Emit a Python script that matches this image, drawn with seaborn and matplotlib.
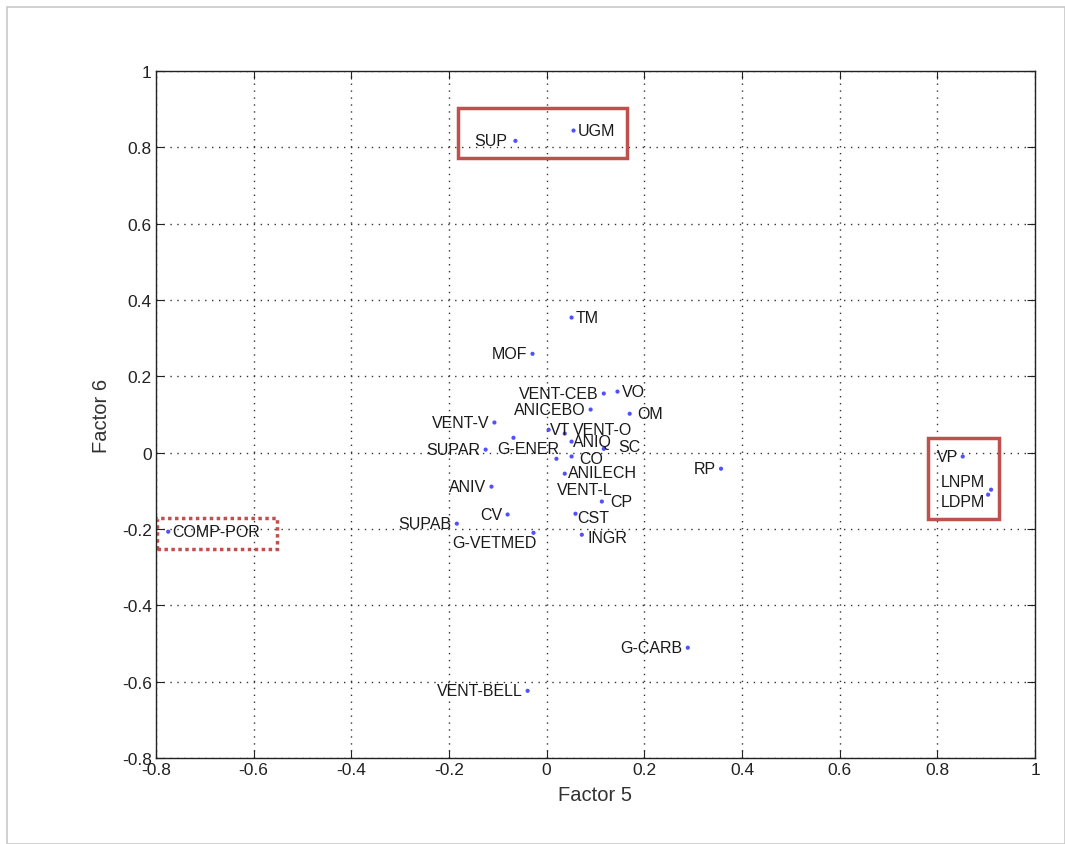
import pandas as pd
import matplotlib.pyplot as plt
import matplotlib.patches as mpatches
import seaborn as sns

# Factor loadings
labels = ['SUP', 'UGM', 'TM', 'MOF', 'VENT-CEB', 'VO', 'ANICEBO', 'OM',
          'VENT-V', 'VT', 'VENT-O', 'VENT-L', 'ANIQ', 'SUPAR', 'SC', 'G-ENER',
          'CO', 'ANILECH', 'ANIV', 'CP', 'CV', 'SUPAB', 'CST', 'G-VETMED',
          'INGR', 'RP', 'VP', 'LNPM', 'LDPM', 'COMP-POR', 'G-CARB', 'VENT-BELL']
factor5 = [-0.064, 0.055, 0.051, -0.029, 0.117, 0.145, 0.090, 0.170,
           -0.107, 0.004, 0.037, -0.068, 0.051, -0.125, 0.117, 0.020,
           0.051, 0.037, -0.113, 0.113, -0.080, -0.184, 0.059, -0.027,
           0.072, 0.357, 0.852, 0.910, 0.904, -0.775, 0.289, -0.039]
factor6 = [0.817, 0.844, 0.354, 0.259, 0.155, 0.160, 0.113, 0.102,
           0.079, 0.060, 0.050, 0.039, 0.029, 0.008, 0.010, -0.016,
           -0.010, -0.055, -0.089, -0.128, -0.162, -0.186, -0.160, -0.210,
           -0.215, -0.042, -0.010, -0.097, -0.110, -0.207, -0.511, -0.624]

ticks_x = [-0.8, -0.6, -0.4, -0.2, 0, 0.2, 0.4, 0.6, 0.8, 1]
ticks_y = [-0.8, -0.6, -0.4, -0.2, 0, 0.2, 0.4, 0.6, 0.8, 1]
tick_text = ['-0.8', '-0.6', '-0.4', '-0.2', '0', '0.2', '0.4', '0.6', '0.8', '1']

df = pd.DataFrame({'label': labels, 'f5': factor5, 'f6': factor6})

# label placement: text offset from the point in pixels (dx, dy, ha)
right = (4, 0, 'left')
left = (-5, 0, 'right')
placement = {
    'UGM': right, 'TM': right, 'VO': right, 'OM': (8, 0, 'left'), 'VT': (1, 0, 'left'),
    'VENT-O': (8, 4, 'left'), 'ANIQ': (1, 0, 'left'), 'SC': (14, 2, 'left'),
    'CO': (8, -2, 'left'), 'ANILECH': (3, 1, 'left'), 'CP': (8, 0, 'left'),
    'CST': (2, -4, 'left'), 'INGR': (6, -3, 'left'), 'COMP-POR': right,
    'G-ENER': (3, 10, 'right'), 'VENT-L': (43, -52, 'left'),
    'G-VETMED': (3, -10, 'right'), 'LNPM': (-6, 8, 'right'), 'LDPM': (-3, -7, 'right'),
    'SUP': (-8, 0, 'right'),
}

sns.set_style('white')
plt.rcParams['font.family'] = ['Liberation Sans', 'DejaVu Sans']

fig = plt.figure(figsize=(10.65, 8.45), dpi=100)
ax = fig.add_axes([156 / 1065, 1 - 759 / 845, (1035 - 156) / 1065, (759 - 72) / 845])

sns.scatterplot(data=df, x='f5', y='f6', ax=ax, color='#5050ff', s=9,
                edgecolor='none', zorder=3)

for lab, x, y in zip(df['label'], df['f5'], df['f6']):
    dx, dy, ha = placement.get(lab, left)
    ax.annotate(lab, (x, y), xytext=(dx, dy), textcoords='offset pixels',
                ha=ha, va='center', fontsize=11.5, color='#1a1a1a', zorder=4)

# highlight boxes
ax.add_patch(mpatches.Rectangle((-0.182, 0.773), 0.346, 0.131, fill=False,
                                edgecolor='#c0504d', lw=2.5, zorder=2))
ax.add_patch(mpatches.Rectangle((0.781, -0.173), 0.145, 0.212, fill=False,
                                edgecolor='#c0504d', lw=2.5, zorder=2))
ax.add_patch(mpatches.Rectangle((-0.797, -0.252), 0.244, 0.082, fill=False,
                                edgecolor='#c0504d', lw=2.5, ls=(0, (1, 1)), zorder=2))

ax.set_xlim(-0.8, 1)
ax.set_ylim(-0.8, 1)
ax.set_xticks(ticks_x)
ax.set_xticklabels(tick_text)
ax.set_yticks(ticks_y)
ax.set_yticklabels(tick_text)
ax.tick_params(direction='in', length=6, width=0.8, labelsize=12.5, colors='#222222',
               top=True, right=True, bottom=True, left=True, pad=3)
ax.grid(True, color='#333333', ls=(0, (1, 4)), lw=1)
for s in ax.spines.values():
    s.set_color('#222222')
    s.set_linewidth(1)

ax.set_xlabel('Factor 5', fontsize=14.5, color='#333333', labelpad=6)
ax.set_ylabel('Factor 6', fontsize=14.5, color='#333333', labelpad=8)

# light frame around the figure
fig.add_artist(mpatches.Rectangle((7 / 1065, 0), 1 - 7 / 1065, 1 - 8 / 845,
                                  transform=fig.transFigure, fill=False,
                                  edgecolor='#c8c8c8', lw=1.2))

fig.savefig('out.png', dpi=100)
